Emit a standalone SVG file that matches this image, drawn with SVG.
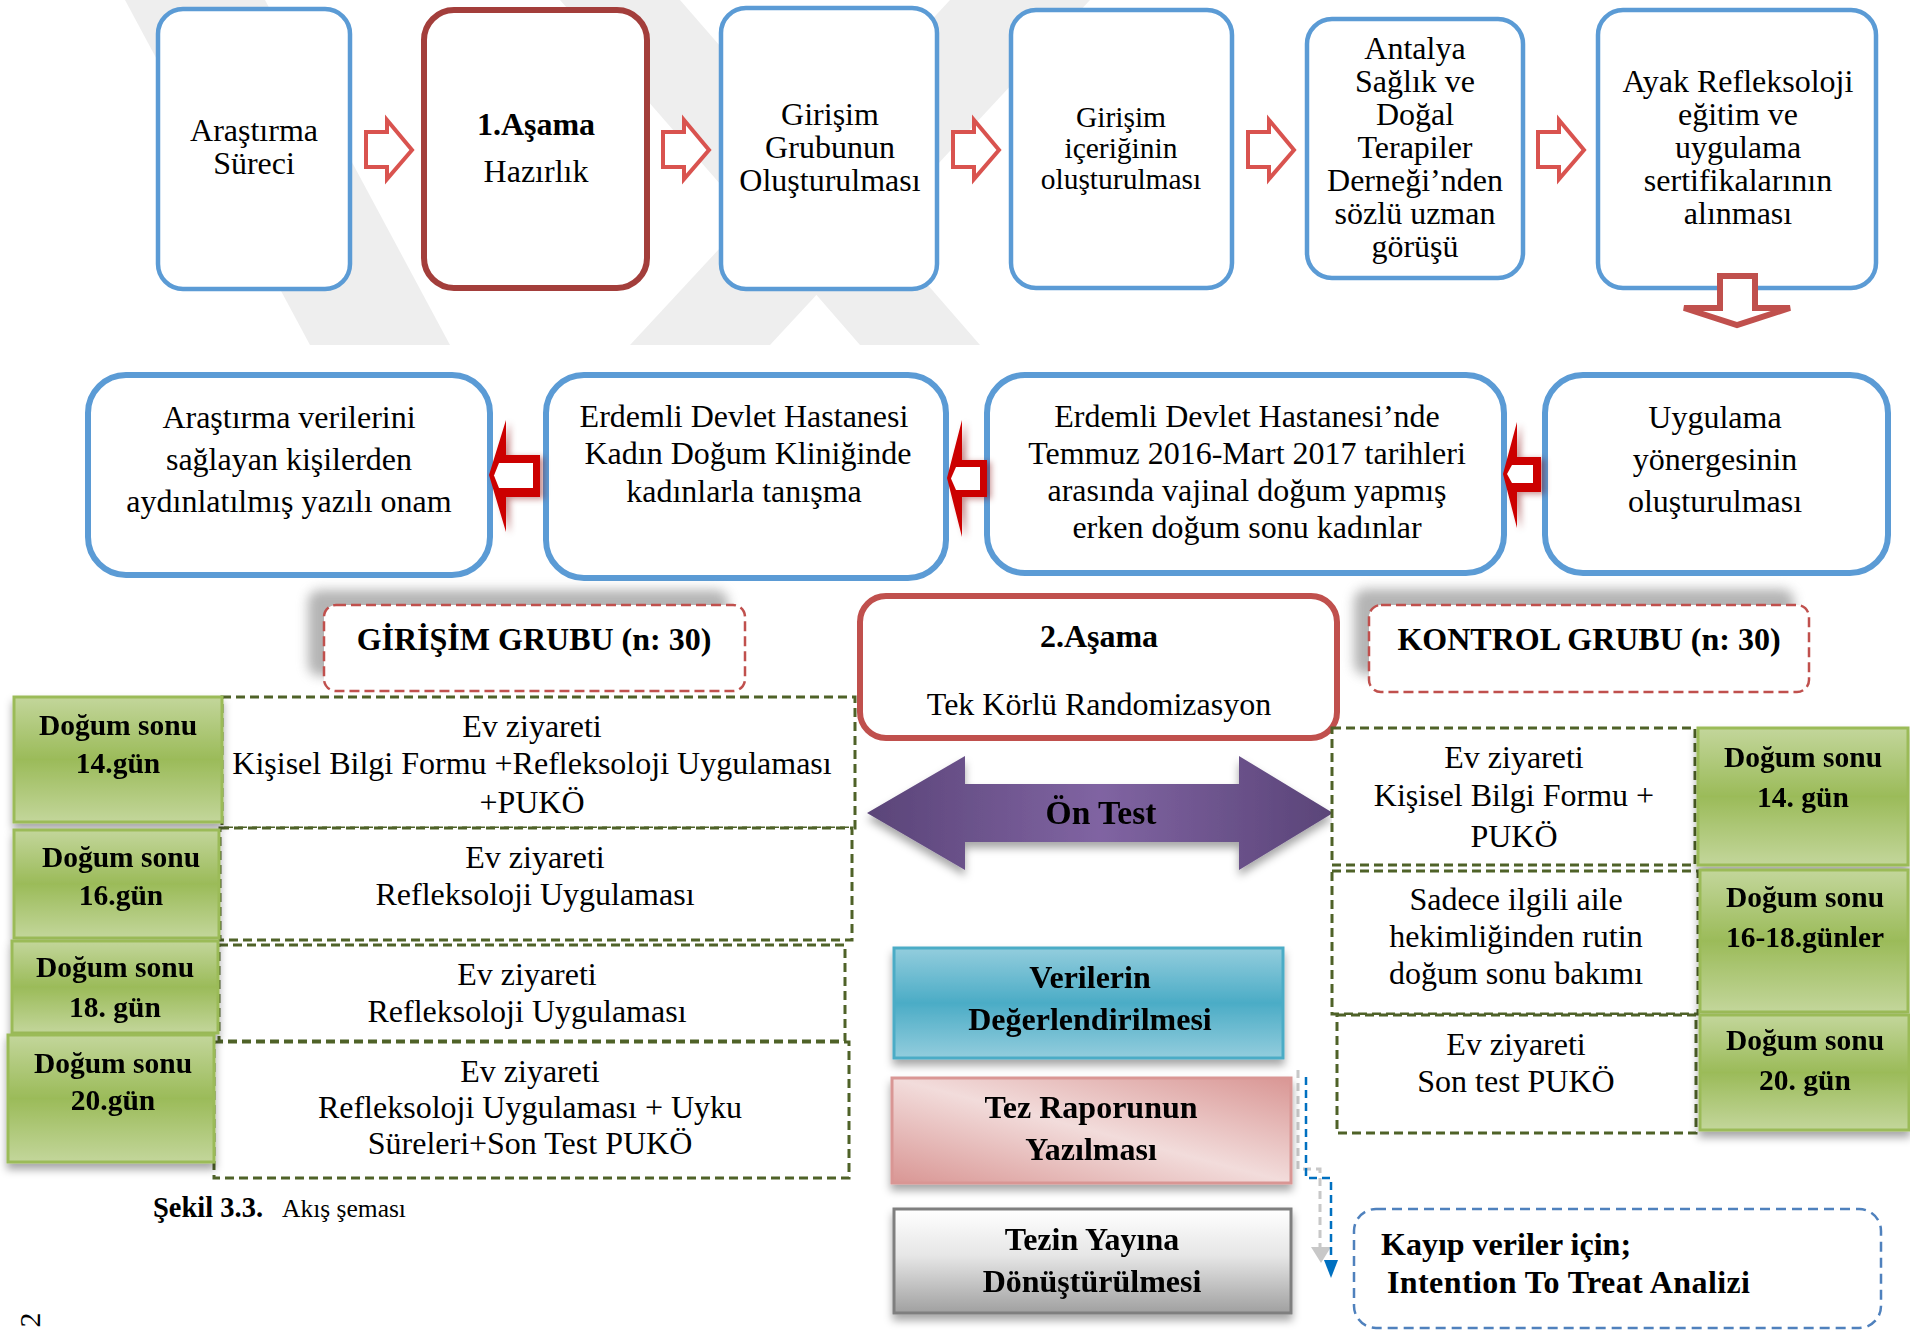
<svg xmlns="http://www.w3.org/2000/svg" width="1910" height="1330" viewBox="0 0 1910 1330">
<style>
text{font-family:"Liberation Serif","Times New Roman",serif;fill:#000;text-anchor:middle}
.t30{font-size:32px}
.t28{font-size:29.5px}
.b{font-weight:bold}
.gt{font-weight:bold;font-size:29.5px}
.bx1{fill:#fff;stroke:#5b9bd5;stroke-width:4.5}
.bx2{fill:#fff;stroke:#5b9bd5;stroke-width:6}
.harrow{fill:#fff;stroke:#d9534f;stroke-width:4;stroke-linejoin:miter}
.rarrow{fill:#cc0000}
.dg{fill:#fff;stroke:#4f6228;stroke-width:3;stroke-dasharray:9 5}
.gr{fill:url(#gGreen);stroke:#9bbb59;stroke-width:3}
.dr{fill:#fff;stroke:#c0504d;stroke-width:2.5;stroke-dasharray:10 5}
.wm{fill:#eeeeee}
</style>
<defs>
<linearGradient id="gGreen" x1="0" y1="0" x2="0" y2="1">
<stop offset="0" stop-color="#c3d69b"/><stop offset="0.5" stop-color="#9bbb59"/><stop offset="1" stop-color="#c3d69b"/>
</linearGradient>
<linearGradient id="gBlue" x1="0" y1="0" x2="0" y2="1">
<stop offset="0" stop-color="#93cddd"/><stop offset="0.5" stop-color="#4bacc6"/><stop offset="1" stop-color="#93cddd"/>
</linearGradient>
<linearGradient id="gPink" x1="1" y1="0" x2="0" y2="1">
<stop offset="0" stop-color="#d99694"/><stop offset="0.5" stop-color="#f2dcdb"/><stop offset="1" stop-color="#d99694"/>
</linearGradient>
<linearGradient id="gGray" x1="0" y1="0" x2="0" y2="1">
<stop offset="0" stop-color="#ffffff"/><stop offset="0.45" stop-color="#e6e6e6"/><stop offset="1" stop-color="#a0a0a0"/>
</linearGradient>
<linearGradient id="gPurple" x1="0" y1="0" x2="1" y2="0">
<stop offset="0" stop-color="#5a4478"/><stop offset="0.5" stop-color="#8064a2"/><stop offset="1" stop-color="#5a4478"/>
</linearGradient>
<filter id="shDown" x="-10%" y="-10%" width="120%" height="130%">
<feGaussianBlur in="SourceAlpha" stdDeviation="4"/>
<feOffset dx="0" dy="6" result="o"/>
<feFlood flood-color="#000" flood-opacity="0.35"/>
<feComposite in2="o" operator="in"/>
<feMerge><feMergeNode/><feMergeNode in="SourceGraphic"/></feMerge>
</filter>
<filter id="shRed" x="-30%" y="-20%" width="160%" height="140%">
<feGaussianBlur in="SourceAlpha" stdDeviation="3"/>
<feOffset dx="4" dy="2" result="o"/>
<feFlood flood-color="#800000" flood-opacity="0.45"/>
<feComposite in2="o" operator="in"/>
<feMerge><feMergeNode/><feMergeNode in="SourceGraphic"/></feMerge>
</filter>
<filter id="blur6" x="-20%" y="-40%" width="140%" height="180%">
<feGaussianBlur stdDeviation="6"/>
</filter>
<path id="hArrow" d="M0,-18 H21 V-30 L46,0 L21,29 V17 H0 Z"/>
</defs>

<rect width="1910" height="1330" fill="#fff"/>

<g id="watermark">
<polygon class="wm" points="125,0 265,0 450,345 310,345"/>
<polygon class="wm" points="560,0 680,0 980,345 860,345"/>
<polygon class="wm" points="950,0 1090,0 770,345 630,345"/>
</g>

<g id="connectors">
<g id="row1-arrows" class="harrow">
<use href="#hArrow" x="366" y="150"/>
<use href="#hArrow" x="663" y="150"/>
<use href="#hArrow" x="953" y="150"/>
<use href="#hArrow" x="1248" y="150"/>
<use href="#hArrow" x="1538" y="150"/>
</g>
<path d="M1298,1070 V1169 H1320 V1248" fill="none" stroke="#c8c8c8" stroke-width="3" stroke-dasharray="8 5"/>
<polygon points="1311,1247 1331,1247 1321,1263" fill="#c8c8c8"/>
<path d="M1306,1077 V1178 H1331 V1262" fill="none" stroke="#0070c0" stroke-width="2.5" stroke-dasharray="8 5"/>
<polygon points="1324,1260 1338,1260 1331,1278" fill="#0070c0"/>
</g>

<g id="n-arastirma-sureci">
<rect class="bx1" x="158" y="9" width="192" height="280" rx="25"/>
<text class="t30" x="254" y="141">Araştırma</text>
<text class="t30" x="254" y="174">Süreci</text>
</g>
<g id="n-asama1">
<rect x="424" y="10" width="223" height="278" rx="30" fill="#fff" stroke="#a33e3b" stroke-width="6"/>
<text class="t30 b" x="536" y="135">1.Aşama</text>
<text class="t30" x="536" y="182">Hazırlık</text>
</g>
<g id="n-grup-olusturma">
<rect class="bx1" x="721" y="8" width="216" height="281" rx="25"/>
<text class="t30" x="830" y="125">Girişim</text>
<text class="t30" x="830" y="158">Grubunun</text>
<text class="t30" x="830" y="191">Oluşturulması</text>
</g>
<g id="n-icerik">
<rect class="bx1" x="1011" y="10" width="221" height="278" rx="25"/>
<text class="t28" x="1121" y="127">Girişim</text>
<text class="t28" x="1121" y="158">içeriğinin</text>
<text class="t28" x="1121" y="189">oluşturulması</text>
</g>
<g id="n-antalya">
<rect class="bx1" x="1307" y="19" width="216" height="259" rx="25"/>
<text class="t30" x="1415" y="59">Antalya</text>
<text class="t30" x="1415" y="92">Sağlık ve</text>
<text class="t30" x="1415" y="125">Doğal</text>
<text class="t30" x="1415" y="158">Terapiler</text>
<text class="t30" x="1415" y="191">Derneği’nden</text>
<text class="t30" x="1415" y="224">sözlü uzman</text>
<text class="t30" x="1415" y="257">görüşü</text>
</g>
<g id="n-sertifika">
<rect class="bx1" x="1598" y="10" width="278" height="278" rx="25"/>
<text class="t30" x="1738" y="92">Ayak Refleksoloji</text>
<text class="t30" x="1738" y="125">eğitim ve</text>
<text class="t30" x="1738" y="158">uygulama</text>
<text class="t30" x="1738" y="191">sertifikalarının</text>
<text class="t30" x="1738" y="224">alınması</text>
</g>
<path id="down-arrow" d="M1720,276 H1755 V308 H1790 L1737,325 L1684,308 H1720 Z" fill="#fff" stroke="#c0504d" stroke-width="6"/>

<g id="n-onam">
<rect class="bx2" x="88" y="375" width="402" height="200" rx="38"/>
<text class="t30" x="289" y="428">Araştırma verilerini</text>
<text class="t30" x="289" y="470">sağlayan kişilerden</text>
<text class="t30" x="289" y="512">aydınlatılmış yazılı onam</text>
</g>
<g id="n-tanisma">
<rect class="bx2" x="546" y="375" width="400" height="203" rx="38"/>
<text class="t30" x="744" y="427">Erdemli Devlet Hastanesi</text>
<text class="t30" x="748" y="464">Kadın Doğum Kliniğinde</text>
<text class="t30" x="744" y="502">kadınlarla tanışma</text>
</g>
<g id="n-orneklem">
<rect class="bx2" x="987" y="375" width="517" height="198" rx="38"/>
<text class="t30" x="1247" y="427">Erdemli Devlet Hastanesi’nde</text>
<text class="t30" x="1247" y="464">Temmuz 2016-Mart 2017 tarihleri</text>
<text class="t30" x="1247" y="501">arasında vajinal doğum yapmış</text>
<text class="t30" x="1247" y="538">erken doğum sonu kadınlar</text>
</g>
<g id="n-yonerge">
<rect class="bx2" x="1545" y="375" width="343" height="198" rx="38"/>
<text class="t30" x="1715" y="428">Uygulama</text>
<text class="t30" x="1715" y="470">yönergesinin</text>
<text class="t30" x="1715" y="512">oluşturulması</text>
</g>

<g id="row2-arrows" filter="url(#shRed)">
<path class="rarrow" d="M489,475 L506,420 V455 H540 V497 H506 V532 Z"/>
<path d="M494,475.5 L499,463 H533 V488 H499 Z" fill="#fff"/>
<path class="rarrow" d="M947,478 L962,420 V460 H987 V497 H962 V537 Z"/>
<path d="M951,478.5 L956,467 H980 V490 H956 Z" fill="#fff"/>
<path class="rarrow" d="M1503,474 L1517,422 V457 H1541 V492 H1517 V528 Z"/>
<path d="M1507,474 L1512,465 H1533 V483 H1512 Z" fill="#fff"/>
</g>

<g id="n-girisim-grubu">
<rect x="308" y="590" width="420" height="86" rx="12" fill="#777" opacity="0.55" filter="url(#blur6)"/>
<rect class="dr" x="324" y="605" width="421" height="86" rx="12"/>
<text class="t30 b" x="534" y="650">GİRİŞİM GRUBU (n: 30)</text>
</g>
<g id="n-kontrol-grubu">
<rect x="1354" y="589" width="440" height="86" rx="12" fill="#777" opacity="0.55" filter="url(#blur6)"/>
<rect class="dr" x="1369" y="605" width="440" height="87" rx="12"/>
<text class="t30 b" x="1589" y="650">KONTROL GRUBU (n: 30)</text>
</g>
<g id="n-asama2">
<rect x="860" y="596" width="477" height="142" rx="26" fill="#fff" stroke="#c0504d" stroke-width="6"/>
<text class="t30 b" x="1099" y="647">2.Aşama</text>
<text class="t30" x="1099" y="715">Tek Körlü Randomizasyon</text>
</g>
<g id="n-on-test" filter="url(#shDown)">
<polygon points="867,813 965,756 965,784 1239,784 1239,756 1333,813 1239,870 1239,842 965,842 965,870" fill="url(#gPurple)"/>
<text class="b" font-size="33.5" x="1101" y="824">Ön Test</text>
</g>

<g id="girisim-table">
<g id="g-row1">
<rect class="dg" x="222" y="697" width="633" height="131"/>
<text class="t30" x="532" y="737">Ev ziyareti</text>
<text class="t30" x="532" y="774">Kişisel Bilgi Formu +Refleksoloji Uygulaması</text>
<text class="t30" x="532" y="813">+PUKÖ</text>
</g>
<g id="g-row2">
<rect class="dg" x="220" y="828" width="632" height="112"/>
<text class="t30" x="535" y="868">Ev ziyareti</text>
<text class="t30" x="535" y="905">Refleksoloji Uygulaması</text>
</g>
<g id="g-row3">
<rect class="dg" x="219" y="945" width="626" height="96"/>
<text class="t30" x="527" y="985">Ev ziyareti</text>
<text class="t30" x="527" y="1022">Refleksoloji Uygulaması</text>
</g>
<g id="g-row4">
<rect class="dg" x="214" y="1042" width="635" height="136"/>
<text class="t30" x="530" y="1082">Ev ziyareti</text>
<text class="t30" x="530" y="1118">Refleksoloji Uygulaması + Uyku</text>
<text class="t30" x="530" y="1154">Süreleri+Son Test PUKÖ</text>
</g>
<g id="g-day14" filter="url(#shDown)">
<rect class="gr" x="14" y="697" width="208" height="125"/>
<text class="gt" x="118" y="735">Doğum sonu</text>
<text class="gt" x="118" y="773">14.gün</text>
</g>
<g id="g-day16" filter="url(#shDown)">
<rect class="gr" x="14" y="830" width="205" height="108"/>
<text class="gt" x="121" y="867">Doğum sonu</text>
<text class="gt" x="121" y="905">16.gün</text>
</g>
<g id="g-day18" filter="url(#shDown)">
<rect class="gr" x="12" y="941" width="206" height="92"/>
<text class="gt" x="115" y="977">Doğum sonu</text>
<text class="gt" x="115" y="1017">18. gün</text>
</g>
<g id="g-day20" filter="url(#shDown)">
<rect class="gr" x="8" y="1035" width="206" height="127"/>
<text class="gt" x="113" y="1073">Doğum sonu</text>
<text class="gt" x="113" y="1110">20.gün</text>
</g>
</g>

<g id="kontrol-table">
<g id="k-row1">
<rect class="dg" x="1332" y="728" width="363" height="137"/>
<text class="t30" x="1514" y="768">Ev ziyareti</text>
<text class="t30" x="1514" y="806">Kişisel Bilgi Formu +</text>
<text class="t30" x="1514" y="847">PUKÖ</text>
</g>
<g id="k-row2">
<rect class="dg" x="1332" y="871" width="366" height="143"/>
<text class="t30" x="1516" y="910">Sadece ilgili aile</text>
<text class="t30" x="1516" y="947">hekimliğinden rutin</text>
<text class="t30" x="1516" y="984">doğum sonu bakımı</text>
</g>
<g id="k-row3">
<rect class="dg" x="1337" y="1015" width="359" height="118"/>
<text class="t30" x="1516" y="1055">Ev ziyareti</text>
<text class="t30" x="1516" y="1092">Son test PUKÖ</text>
</g>
<g id="k-day14" filter="url(#shDown)">
<rect class="gr" x="1698" y="728" width="210" height="137"/>
<text class="gt" x="1803" y="767">Doğum sonu</text>
<text class="gt" x="1803" y="807">14. gün</text>
</g>
<g id="k-day16-18" filter="url(#shDown)">
<rect class="gr" x="1700" y="870" width="208" height="142"/>
<text class="gt" x="1805" y="907">Doğum sonu</text>
<text class="gt" x="1805" y="947">16-18.günler</text>
</g>
<g id="k-day20" filter="url(#shDown)">
<rect class="gr" x="1700" y="1015" width="209" height="115"/>
<text class="gt" x="1805" y="1050">Doğum sonu</text>
<text class="gt" x="1805" y="1090">20. gün</text>
</g>
</g>

<g id="n-degerlendirme" filter="url(#shDown)">
<rect x="894" y="948" width="389" height="110" fill="url(#gBlue)" stroke="#4bacc6" stroke-width="3"/>
<text class="t30 b" x="1090" y="988">Verilerin</text>
<text class="t30 b" x="1090" y="1030">Değerlendirilmesi</text>
</g>
<g id="n-tez-rapor" filter="url(#shDown)">
<rect x="892" y="1078" width="399" height="105" fill="url(#gPink)" stroke="#d99694" stroke-width="3"/>
<text class="t30 b" x="1091" y="1118">Tez Raporunun</text>
<text class="t30 b" x="1091" y="1160">Yazılması</text>
</g>
<g id="n-tez-yayin" filter="url(#shDown)">
<rect x="894" y="1209" width="397" height="104" fill="url(#gGray)" stroke="#7f7f7f" stroke-width="3"/>
<text class="t30 b" x="1092" y="1250">Tezin Yayına</text>
<text class="t30 b" x="1092" y="1292">Dönüştürülmesi</text>
</g>
<g id="n-kayip">
<rect x="1354" y="1209" width="527" height="119" rx="22" fill="#fff" stroke="#4f81bd" stroke-width="2.5" stroke-dasharray="10 6"/>
<text class="t30 b" x="1381" y="1255" style="text-anchor:start">Kayıp veriler için;</text>
<text class="t30 b" x="1387" y="1293" style="text-anchor:start;letter-spacing:0.4px">Intention To Treat Analizi</text>
</g>

<g id="caption">
<text class="b" font-size="28.5" x="153" y="1217" style="text-anchor:start">Şekil 3.3.</text>
<text font-size="25.5" x="282" y="1217" style="text-anchor:start">Akış şeması</text>
</g>
<text font-size="30" transform="translate(40,1320) rotate(-90)">2</text>
</svg>
